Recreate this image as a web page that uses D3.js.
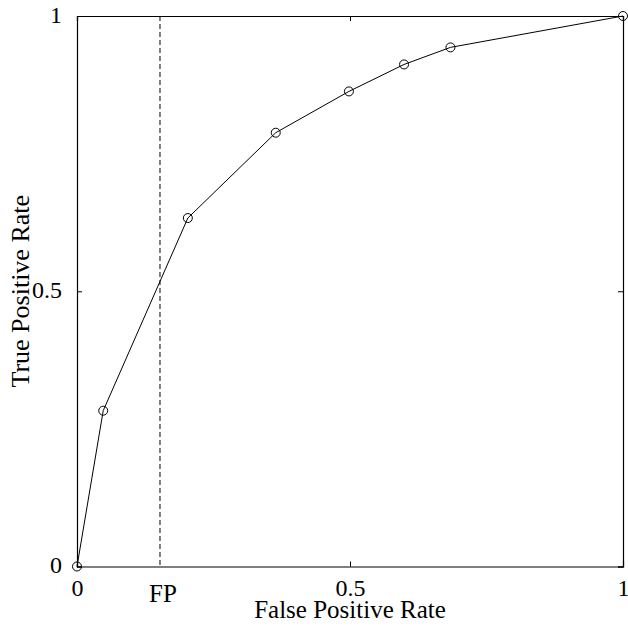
<!DOCTYPE html>
<html>
<head>
<meta charset="utf-8">
<script src="https://cdn.jsdelivr.net/npm/d3@7"></script>
<style>
  body { margin: 0; background: #fff; }
  svg text { font-family: "Liberation Serif", "Times New Roman", serif; fill: #000; }
</style>
</head>
<body>
<div id="chart"></div>
<script>
// ROC curve points
const fpr = [0, 0.048, 0.203, 0.364, 0.498, 0.599, 0.684, 1];
const tpr = [0, 0.283, 0.633, 0.788, 0.863, 0.912, 0.943, 1];
const tickVals = [0, 0.5, 1];
const tickLabels = ["0", "0.5", "1"];
const fpMark = 0.152;

const width = 628, height = 635;
const margin = {top: 16, right: 5, bottom: 68.5, left: 77};
const innerWidth = width - margin.left - margin.right,
      innerHeight = height - margin.top - margin.bottom;

const svg = d3.select("#chart")
  .append("svg")
  .attr("width", width)
  .attr("height", height)
  .append("g")
  .attr("transform", `translate(${margin.left}, ${margin.top})`);

const x = d3.scaleLinear().domain([0, 1]).range([0, innerWidth]);
const y = d3.scaleLinear().domain([0, 1]).range([innerHeight, 0]);

const fmt = (d, i) => tickLabels[i];

// axes, ticks pointing inward on all four sides
svg.append("g")
  .attr("transform", `translate(0, ${innerHeight})`)
  .call(d3.axisBottom(x).tickValues(tickVals).tickFormat(fmt).tickSize(-5).tickPadding(12))
  .call(g => g.selectAll("text").style("font-size", "24px"));
svg.append("g")
  .call(d3.axisTop(x).tickValues(tickVals).tickFormat("").tickSize(-5));
svg.append("g")
  .call(d3.axisLeft(y).tickValues(tickVals).tickFormat(fmt).tickSize(-5).tickPadding(15))
  .call(g => g.selectAll("text").attr("dy", "0.25em").style("font-size", "24px"));
svg.append("g")
  .attr("transform", `translate(${innerWidth}, 0)`)
  .call(d3.axisRight(y).tickValues(tickVals).tickFormat("").tickSize(-5));

svg.selectAll(".domain").attr("stroke", "#000").attr("stroke-width", 1.2);
svg.selectAll(".tick line").attr("stroke", "#000");

// dashed FP threshold
svg.append("line")
  .attr("x1", x(fpMark)).attr("x2", x(fpMark))
  .attr("y1", y(1)).attr("y2", y(0))
  .attr("stroke", "#000")
  .attr("stroke-width", 1)
  .attr("stroke-dasharray", "5,3");

svg.append("text")
  .attr("x", x(fpMark) + 3)
  .attr("y", innerHeight + 35)
  .attr("text-anchor", "middle")
  .style("font-size", "25px")
  .text("FP");

const pts = fpr.map((d, i) => ({x: d, y: tpr[i]}));

svg.append("path")
  .datum(pts)
  .attr("fill", "none")
  .attr("stroke", "#000")
  .attr("stroke-width", 1)
  .attr("d", d3.line().x(d => x(d.x)).y(d => y(d.y)));

svg.append("g")
  .selectAll("circle")
  .data(pts)
  .enter().append("circle")
  .attr("cx", d => x(d.x))
  .attr("cy", d => y(d.y))
  .attr("r", 4.5)
  .attr("fill", "none")
  .attr("stroke", "#000")
  .attr("stroke-width", 1);

// axis titles
svg.append("text")
  .attr("x", innerWidth / 2)
  .attr("y", innerHeight + 51.5)
  .attr("text-anchor", "middle")
  .style("font-size", "25px")
  .text("False Positive Rate");

svg.append("text")
  .attr("transform", `translate(${-margin.left + 29}, ${innerHeight / 2}) rotate(-90)`)
  .attr("text-anchor", "middle")
  .style("font-size", "26px")
  .text("True Positive Rate");
</script>
</body>
</html>
